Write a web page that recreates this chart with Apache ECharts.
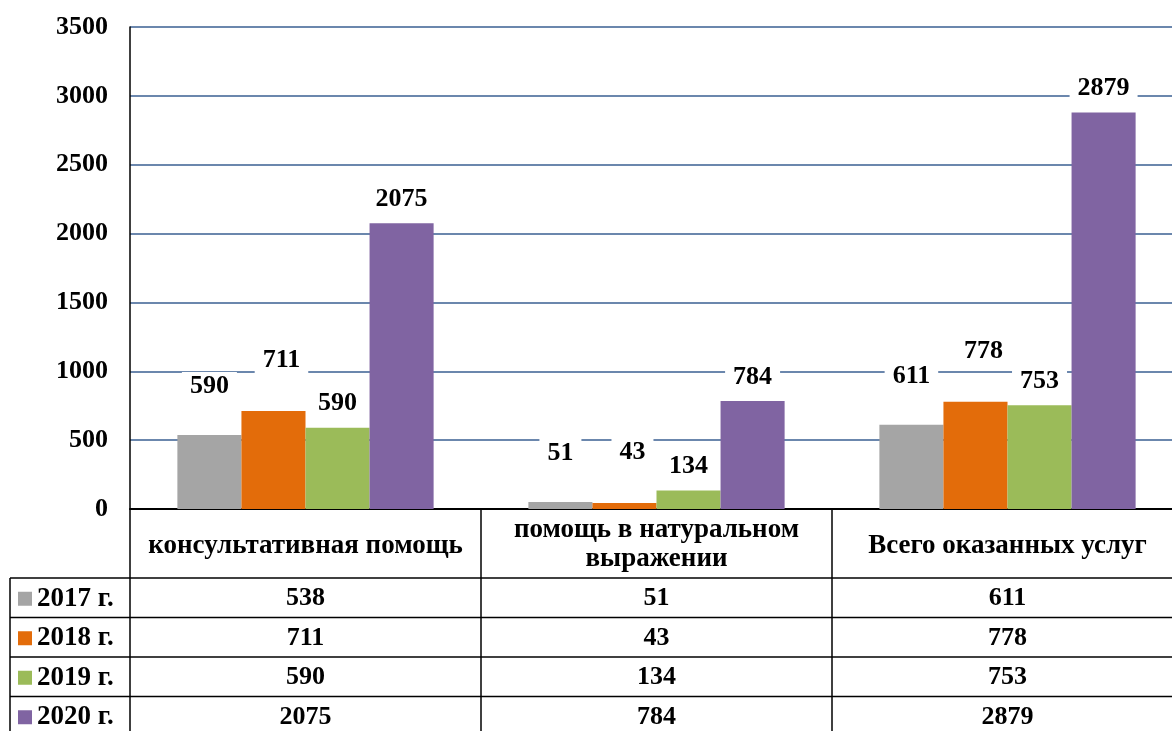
<!DOCTYPE html>
<html>
<head>
<meta charset="utf-8">
<script src="https://cdn.jsdelivr.net/npm/echarts@6/dist/echarts.min.js"></script>
<style>
html,body{margin:0;padding:0;background:#fff;overflow:hidden;width:1172px;height:731px;}
#chart{width:1183px;height:731px;}
</style>
</head>
<body>
<div id="chart"></div>
<script>
// ---- data ----
const categories = ['консультативная помощь', 'помощь в натуральном\nвыражении', 'Всего оказанных услуг'];
const seriesNames = ['2017 г.', '2018 г.', '2019 г.', '2020 г.'];
const values2017 = [538, 51, 611];
const values2018 = [711, 43, 778];
const values2019 = [590, 134, 753];
const values2020 = [2075, 784, 2879];
// data labels as printed on the bars (first 2017 label in the source reads 590)
const barLabels2017 = ['590', '51', '611'];
const yMin = 0, yMax = 3500, yStep = 500;

const colors = ['#a5a5a5', '#e36c0a', '#9bbb59', '#8064a2'];
const FONT = 'Liberation Serif';
const allValues = [values2017, values2018, values2019, values2020];

const chart = echarts.init(document.getElementById('chart'), null, {renderer: 'canvas', width: 1183, height: 731});

const labelCfg = [
  {distance: 35, offset: [0, 0]},
  {distance: 37, offset: [8, 0]},
  {distance: 10, offset: [0, 0]},
  {distance: 10, offset: [0, 0]}
];

const series = seriesNames.map((name, i) => ({
  name: name,
  type: 'bar',
  data: allValues[i],
  barGap: '0%',
  barCategoryGap: '27%',
  itemStyle: {color: colors[i]},
  label: {
    show: true,
    position: 'top',
    distance: labelCfg[i].distance,
    offset: labelCfg[i].offset,
    fontFamily: FONT,
    fontWeight: 'bold',
    fontSize: 26,
    color: '#000',
    backgroundColor: '#fff',
    padding: [1, 8],
    formatter: i === 0 ? (p => barLabels2017[p.dataIndex]) : (p => String(p.value))
  },
  z: 3
}));

chart.setOption({
  animation: false,
  backgroundColor: '#fff',
  grid: {left: 130, top: 27, right: 0, height: 482, containLabel: false},
  xAxis: {
    type: 'category',
    data: categories,
    axisLine: {show: true, lineStyle: {color: '#000', width: 2}},
    axisTick: {show: false},
    axisLabel: {show: false},
    splitLine: {show: false}
  },
  yAxis: {
    type: 'value',
    min: yMin, max: yMax, interval: yStep,
    axisLine: {show: true, lineStyle: {color: '#000', width: 1.5}},
    axisTick: {show: false},
    axisLabel: {
      margin: 22,
      formatter: v => String(v),
      fontFamily: FONT, fontWeight: 'bold', fontSize: 26, color: '#000'
    },
    splitLine: {show: true, lineStyle: {color: '#3a5f92', width: 1.5}}
  },
  series: series
});

// ---- data table below the plot, positioned from the axes ----
function buildTable() {
  const centers = categories.map((c, i) => chart.convertToPixel({xAxisIndex: 0}, i));
  const y0 = chart.convertToPixel({yAxisIndex: 0}, 0);
  const half = (centers[1] - centers[0]) / 2;
  const bounds = [centers[0] - half];
  for (let i = 0; i < centers.length - 1; i++) bounds.push((centers[i] + centers[i + 1]) / 2);
  bounds.push(centers[centers.length - 1] + half);
  const gridRight = bounds[bounds.length - 1];
  const tableLeft = 10;
  const headerH = 69;
  const rowH = 39.5;
  const H = 731;
  const elems = [];
  const lineStyle = {stroke: '#000', lineWidth: 1.5};
  bounds.forEach(bx => {
    elems.push({type: 'line', shape: {x1: bx, y1: y0, x2: bx, y2: H + 5}, style: lineStyle, z: 10});
  });
  const rowTop = y0 + headerH;
  elems.push({type: 'line', shape: {x1: tableLeft, y1: rowTop, x2: tableLeft, y2: H + 5}, style: lineStyle, z: 10});
  for (let r = 0; r < seriesNames.length; r++) {
    const yy = rowTop + r * rowH;
    elems.push({type: 'line', shape: {x1: tableLeft, y1: yy, x2: gridRight, y2: yy}, style: lineStyle, z: 10});
  }
  categories.forEach((c, i) => {
    elems.push({
      type: 'text', x: centers[i], y: y0 + headerH / 2 + (c.indexOf('\n') >= 0 ? 1 : 3),
      style: {text: c, font: 'bold 27px ' + FONT, fill: '#000', align: 'center', verticalAlign: 'middle', lineHeight: 29},
      z: 11
    });
  });
  seriesNames.forEach((name, r) => {
    const cy = rowTop + r * rowH + rowH / 2 + 1;
    elems.push({type: 'rect', shape: {x: 18, y: cy - 7, width: 14, height: 14}, style: {fill: colors[r]}, z: 11});
    elems.push({
      type: 'text', x: 37, y: cy,
      style: {text: name, font: 'bold 27px ' + FONT, fill: '#000', align: 'left', verticalAlign: 'middle'},
      z: 11
    });
    allValues[r].forEach((v, i) => {
      elems.push({
        type: 'text', x: centers[i], y: cy,
        style: {text: String(v), font: 'bold 26px ' + FONT, fill: '#000', align: 'center', verticalAlign: 'middle'},
        z: 11
      });
    });
  });
  chart.setOption({graphic: {elements: elems}});
}
buildTable();
</script>
</body>
</html>
